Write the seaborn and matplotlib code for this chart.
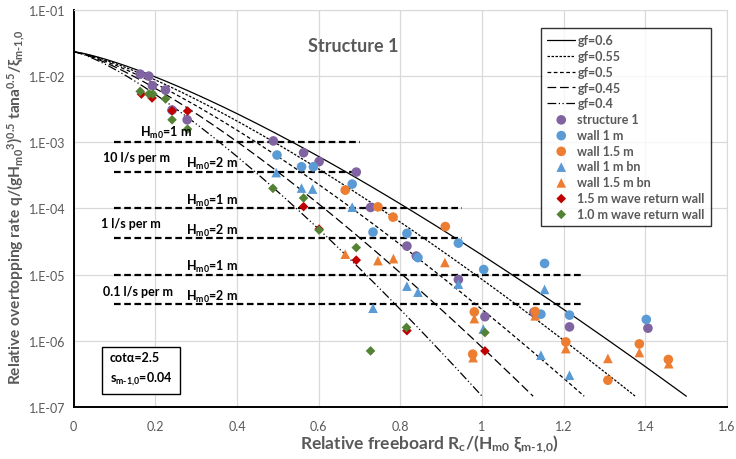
import numpy as np
import matplotlib
matplotlib.use("Agg")
import matplotlib.pyplot as plt
from matplotlib.ticker import FixedLocator, FuncFormatter, LogLocator, NullFormatter
import seaborn as sns

# ---- data ----
gf_values = [0.6, 0.55, 0.5, 0.45, 0.4]
gf_styles = ["-", (0, (2, 1.2)), (0, (3, 2)), (0, (7, 3)), (0, (7, 2, 1, 2, 1, 2))]
coef_a, coef_b, coef_c = 0.023, 2.7, 1.3   # design line q* = a*exp(-(b*x/gf)^c)

struct_x = [0.163, 0.184, 0.193, 0.225, 0.241, 0.278, 0.489, 0.563, 0.601, 0.692, 0.727,
            0.816, 0.839, 0.942, 1.007, 1.127, 1.214, 1.406]
struct_y = [1.06e-2, 9.9e-3, 7.1e-3, 6.1e-3, 3.04e-3, 2.17e-3, 1.04e-3, 6.9e-4, 5.07e-4, 3.52e-4,
            1.03e-4, 2.69e-5, 1.90e-5, 8.4e-6, 2.31e-6, 2.70e-6, 1.62e-6, 1.55e-6]

wall1_x = [0.498, 0.558, 0.587, 0.682, 0.733, 0.816, 0.843, 0.942, 1.004, 1.153, 1.144, 1.214, 1.402]
wall1_y = [6.37e-4, 4.24e-4, 4.24e-4, 2.32e-4, 4.37e-5, 4.18e-5, 1.80e-5, 2.98e-5, 1.19e-5,
           1.47e-5, 2.52e-6, 2.44e-6, 2.10e-6]

wall15_x = [0.665, 0.745, 0.782, 0.910, 0.981, 0.977, 1.130, 1.205, 1.308, 1.385, 1.456]
wall15_y = [1.88e-4, 1.05e-4, 7.36e-5, 5.3e-5, 2.73e-6, 6.28e-7, 2.77e-6, 9.6e-7, 2.54e-7,
            8.97e-7, 5.22e-7]

wall1bn_x = [0.496, 0.558, 0.585, 0.682, 0.733, 0.816, 0.843, 0.942, 1.003, 1.153, 1.144, 1.214]
wall1bn_y = [3.46e-4, 2.02e-4, 1.95e-4, 1.04e-4, 3.1e-6, 6.68e-6, 5.42e-6, 7.16e-6, 1.50e-6,
             5.96e-6, 6.07e-7, 3.02e-7]

wall15bn_x = [0.665, 0.745, 0.783, 0.909, 0.981, 0.978, 1.130, 1.205, 1.308, 1.385, 1.457]
wall15bn_y = [2.03e-5, 1.62e-5, 1.74e-5, 1.52e-5, 2.16e-6, 5.56e-7, 2.38e-6, 7.61e-7, 5.42e-7,
              6.65e-7, 4.51e-7]

ret15_x = [0.166, 0.192, 0.241, 0.279, 0.563, 0.601, 0.692, 0.816, 1.007]
ret15_y = [5.3e-3, 4.63e-3, 2.97e-3, 2.94e-3, 1.06e-4, 4.85e-5, 1.65e-5, 1.42e-6, 7.03e-7]

ret10_x = [0.163, 0.184, 0.194, 0.225, 0.241, 0.279, 0.488, 0.563, 0.601, 0.692, 0.727, 0.815, 1.007]
ret10_y = [5.83e-3, 5.31e-3, 5.31e-3, 4.47e-3, 2.17e-3, 1.57e-3, 2.0e-4, 1.43e-4, 4.69e-5,
           2.55e-5, 7.03e-7, 1.59e-6, 1.33e-6]

# tolerable overtopping limits (10, 1, 0.1 l/s per m for Hm0 = 1 m and 2 m)
limit_y = [1.0e-3, 3.57e-4, 1.0e-4, 3.57e-5, 1.0e-5, 3.57e-6]
limit_xend = [0.7, 0.7, 0.95, 0.95, 1.25, 1.25]
limit_labels = ["H$_{m0}$=1 m", "H$_{m0}$=2 m"] * 3
limit_label_x = [0.162, 0.274, 0.274, 0.274, 0.274, 0.274]
limit_label_y = [1.42e-3, 4.77e-4, 1.33e-4, 4.73e-5, 1.35e-5, 4.76e-6]
rate_labels = ["10 l/s per m", "1 l/s per m", "0.1 l/s per m"]
rate_label_x = [0.073, 0.068, 0.073]
rate_label_y = [6.0e-4, 5.9e-5, 5.68e-6]

series = [
    ("structure 1", struct_x, struct_y, "o", "#8064A2", 48),
    ("wall 1 m", wall1_x, wall1_y, "o", "#5B9BD5", 48),
    ("wall 1.5 m", wall15_x, wall15_y, "o", "#ED7D31", 48),
    ("wall 1 m bn", wall1bn_x, wall1bn_y, "^", "#5B9BD5", 48),
    ("wall 1.5 m bn", wall15bn_x, wall15bn_y, "^", "#ED7D31", 48),
    ("1.5 m wave return wall", ret15_x, ret15_y, "D", "#C00000", 24),
    ("1.0 m wave return wall", ret10_x, ret10_y, "D", "#548235", 24),
]

sns.set_style("white")
plt.rcParams["font.family"] = ["Lato", "DejaVu Sans"]
plt.rcParams["mathtext.fontset"] = "custom"
plt.rcParams["mathtext.rm"] = "Lato:bold"
plt.rcParams["mathtext.it"] = "Lato:bold:italic"
plt.rcParams["mathtext.bf"] = "Lato:bold"
plt.rcParams["mathtext.default"] = "rm"
grey = "#595959"

fig = plt.figure(figsize=(7.36, 4.6), dpi=100)
ax = fig.add_axes([0.1, 0.113, 0.888, 0.864])
ax.set_yscale("log")

for gf, ls in zip(gf_values, gf_styles):
    xs = np.linspace(0, 2.5 * gf, 300)
    ys = coef_a * np.exp(-(coef_b * xs / gf) ** coef_c)
    sns.lineplot(x=xs, y=ys, ax=ax, color="black", lw=0.9, linestyle=ls,
                 label=f"gf={gf:g}", sort=False, legend=False)

for y, xe in zip(limit_y, limit_xend):
    ax.plot([0.1, xe], [y, y], color="black", lw=1.6, linestyle=(0, (3, 1.6)), zorder=2)

for name, xs, ys, mk, col, size in series:
    sns.scatterplot(x=xs, y=ys, ax=ax, marker=mk, color=col, s=size, edgecolor="none",
                    label=name, zorder=3, legend=False)

for t, x, y in zip(limit_labels, limit_label_x, limit_label_y):
    ax.text(x, y, t, fontsize=9, fontweight="bold", color="black", va="center", ha="left")
for t, x, y in zip(rate_labels, rate_label_x, rate_label_y):
    ax.text(x, y, t, fontsize=9, fontweight="bold", color="black", va="center", ha="left")

ax.text(0.684, 2.9e-2, "Structure 1", fontsize=13, fontweight="bold", color=grey,
        ha="center", va="center")
ax.text(0.088, 3.75e-7, "cotα=2.5\ns$_{\\text{m-1,0}}$=0.04", fontsize=9, fontweight="bold",
        color="black", ha="left", va="center", linespacing=1.5,
        bbox=dict(boxstyle="square,pad=0.6", fc="white", ec="black", lw=1))

ax.set_xlim(0, 1.6)
ax.set_ylim(1e-7, 1e-1)
ax.xaxis.set_major_locator(FixedLocator(np.arange(0, 1.61, 0.2)))
ax.xaxis.set_minor_locator(FixedLocator(np.arange(0, 1.61, 0.04)))
ax.xaxis.set_major_formatter(FuncFormatter(lambda v, p: f"{v:g}"))
ax.yaxis.set_major_locator(LogLocator(base=10, numticks=10))
ax.yaxis.set_minor_locator(LogLocator(base=10, subs=np.arange(2, 10), numticks=10))
ax.yaxis.set_minor_formatter(NullFormatter())
ax.yaxis.set_major_formatter(FuncFormatter(lambda v, p: f"1.E-{int(round(-np.log10(v))):02d}"))
ax.tick_params(which="both", direction="in", colors="black", labelcolor=grey, labelsize=9)
ax.tick_params(which="major", length=5, width=1)
ax.tick_params(which="minor", length=3, width=0.8)
ax.tick_params(axis="x", pad=9)
ax.tick_params(axis="y", pad=6)
ax.grid(True, which="major", color="#D9D9D9", lw=0.9)
ax.set_axisbelow(True)
for s in ["top", "right"]:
    ax.spines[s].set_color("#D9D9D9")
for s in ["left", "bottom"]:
    ax.spines[s].set_color("black")
    ax.spines[s].set_linewidth(1.4)

ax.set_xlabel("Relative freeboard R$_c$/(H$_{m0}$ ξ$_{\\text{m-1,0}}$)", fontsize=12.5,
              fontweight="bold", color=grey)
ax.xaxis.set_label_coords(0.545, -0.062)
fig.text(0.022, 0.55,
         "Relative overtopping rate q/(gH$_{m0}$$^3$)$^{0.5}$ tana$^{0.5}$/ξ$_{\\text{m-1,0}}$",
         rotation=90, ha="center", va="center", fontsize=11.2, fontweight="bold", color=grey)

handles, labels = ax.get_legend_handles_labels()
leg = ax.legend(handles, labels, loc="upper right", bbox_to_anchor=(0.985, 0.969),
                frameon=True, fancybox=False, edgecolor="black",
                handlelength=2.2, handletextpad=0.2, labelspacing=0.3, borderpad=0.5,
                prop={"weight": "bold", "size": 9})
leg.get_frame().set_linewidth(1.0)
for t in leg.get_texts():
    t.set_color(grey)

fig.savefig("out.png", dpi=100)
